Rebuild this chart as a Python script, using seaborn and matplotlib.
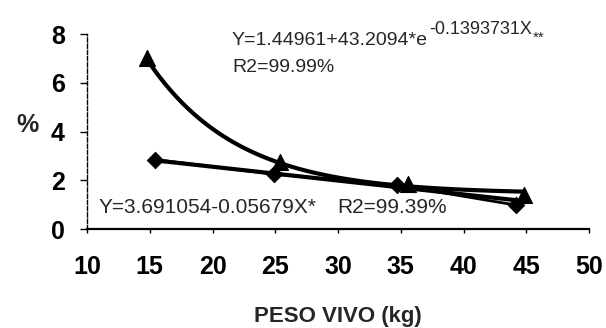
import numpy as np
import pandas as pd
import seaborn as sns
import matplotlib.pyplot as plt

sns.set_style("ticks")
plt.rcParams['font.family'] = ['Liberation Sans', 'DejaVu Sans']

# triangles (exponential series) and diamonds (linear series)
peso_tri = [14.8, 25.4, 35.6, 44.8]
pct_tri = [7.0, 2.75, 1.85, 1.4]
peso_dia = [15.4, 24.9, 34.7, 44.2]
pct_dia = [2.85, 2.25, 1.8, 0.98]

# fitted models printed on the chart
exp_a, exp_b, exp_k = 1.44961, 43.2094, 0.1393731
lin_a, lin_b = 3.691054, 0.05679

x_ticks = [10, 15, 20, 25, 30, 35, 40, 45, 50]
y_ticks = [0, 2, 4, 6, 8]

tri = pd.DataFrame({'peso': peso_tri, 'pct': pct_tri})
dia = pd.DataFrame({'peso': peso_dia, 'pct': pct_dia})

xs_exp = np.linspace(peso_tri[0], peso_tri[-1], 120)
fit_exp = pd.DataFrame({'peso': xs_exp, 'pct': exp_a + exp_b * np.exp(-exp_k * xs_exp)})
xs_lin = np.array([peso_dia[0], peso_dia[-1]])
fit_lin = pd.DataFrame({'peso': xs_lin, 'pct': lin_a - lin_b * xs_lin})

fig = plt.figure(figsize=(6.06, 3.28), dpi=100)
ax = fig.add_axes([0.1436, 0.3018, 0.8284, 0.5945])

sns.lineplot(data=fit_exp, x='peso', y='pct', color='black', lw=3, ax=ax)
sns.lineplot(data=fit_lin, x='peso', y='pct', color='black', lw=3, ax=ax)
sns.lineplot(data=dia, x='peso', y='pct', color='black', lw=2, ax=ax)
sns.scatterplot(data=tri, x='peso', y='pct', marker='^', s=130, color='black',
                edgecolor='black', ax=ax, zorder=5, clip_on=False)
sns.scatterplot(data=dia, x='peso', y='pct', marker='D', s=70, color='black',
                edgecolor='black', ax=ax, zorder=5, clip_on=False)

ax.set_xlim(10, 50)
ax.set_ylim(0, 8)
ax.set_xticks(x_ticks)
ax.set_yticks(y_ticks)
ax.tick_params(axis='both', labelsize=18, width=1, color='black', labelcolor='black')
ax.tick_params(axis='y', length=5, pad=11)
ax.tick_params(axis='x', length=3, pad=16)
for lab in ax.get_xticklabels() + ax.get_yticklabels():
    lab.set_fontweight('bold')

sns.despine(ax=ax)
ax.spines['left'].set_linestyle((0, (3, 1.5)))
ax.spines['left'].set_linewidth(1)
ax.spines['bottom'].set_linewidth(1.6)
ax.spines['left'].set_color('black')
ax.spines['bottom'].set_color('black')

ax.set_xlabel('PESO VIVO (kg)', fontsize=16, fontweight='bold', labelpad=19)
ax.set_ylabel('')
fig.text(0.045, 0.62, '%', fontsize=18, fontweight='bold', ha='center', va='center')

# fit equations
ax.text(21.55, 7.75, 'Y=1.44961+43.2094*e', fontsize=14, va='center', clip_on=False)
ax.text(37.3, 8.2, '-0.1393731X', fontsize=13, va='center', clip_on=False)
ax.text(45.5, 7.85, '**', fontsize=11, va='center', clip_on=False)
ax.text(21.55, 6.64, 'R2=99.99%', fontsize=14, va='center', clip_on=False)
ax.text(10.88, 0.9, 'Y=3.691054-0.05679X*', fontsize=15, va='center')
ax.text(29.9, 0.9, 'R2=99.39%', fontsize=15, va='center')

plt.savefig('out.png', dpi=100)
plt.close()
